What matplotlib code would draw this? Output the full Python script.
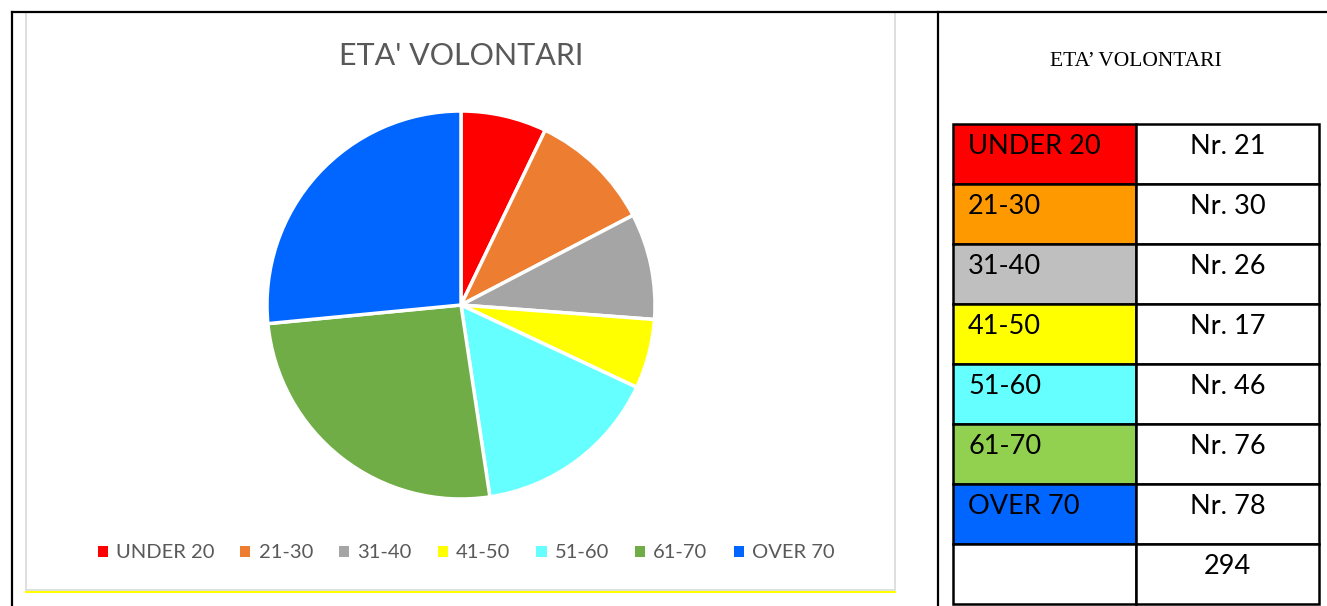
import matplotlib.pyplot as plt
from matplotlib.patches import Rectangle, Patch

# data
labels = ['UNDER 20', '21-30', '31-40', '41-50', '51-60', '61-70', 'OVER 70']
values = [21, 30, 26, 17, 46, 76, 78]
pie_colors = ['#FF0000', '#ED7D31', '#A5A5A5', '#FFFF00', '#66FFFF', '#70AD47', '#0066FF']
table_colors = ['#FF0000', '#FF9900', '#BFBFBF', '#FFFF00', '#66FFFF', '#92D050', '#0066FF']
title = "ETA' VOLONTARI"
total = sum(values)

W, H = 1327, 606
fig = plt.figure(figsize=(W / 100, H / 100), dpi=100)

# background axes in pixel coords (y down)
bg = fig.add_axes([0, 0, 1, 1])
bg.set_xlim(0, W)
bg.set_ylim(H, 0)
bg.axis('off')

# outer document table lines
bg.plot([12, W], [12, 12], color='black', lw=1.6)
bg.plot([12, 12], [12, H], color='black', lw=1.6)
bg.plot([938, 938], [12, H], color='black', lw=1.6)

# chart frame
bg.add_patch(Rectangle((26, 12), 869, 578, fill=False, ec='#D9D9D9', lw=1.2))
bg.plot([26, 895], [592, 592], color='#FFFF00', lw=1.5)

bg.text(461, 56, title, ha='center', va='center', fontsize=22, color='#595959', family='Lato')

# pie
cx, cy, r = 461, 305, 194
pax = fig.add_axes([(cx - r) / W, (H - cy - r) / H, 2 * r / W, 2 * r / H])
pax.pie(values, colors=pie_colors, startangle=90, counterclock=False,
        wedgeprops=dict(edgecolor='white', linewidth=2.5))
pax.set_xlim(-1.0, 1.0)
pax.set_ylim(-1.0, 1.0)

handles = [Patch(facecolor=c, edgecolor='none') for c in pie_colors]
leg = bg.legend(handles, labels, ncol=7, loc='center', bbox_to_anchor=(466 / W, 1 - 553 / H),
                bbox_transform=fig.transFigure, frameon=False, handlelength=0.5, handleheight=0.5,
                handletextpad=0.4, columnspacing=1.3, prop={'family': 'Lato', 'size': 14.5})
for t in leg.get_texts():
    t.set_color('#595959')

# right side table
bg.text(1136, 62, 'ETA\u2019 VOLONTARI', ha='center', va='center', fontsize=15.5,
        family='Liberation Serif', color='black')
x0, x1, x2 = 953, 1136, 1319
y0, rh = 124, 60
for i, lab in enumerate(labels):
    y = y0 + i * rh
    bg.add_patch(Rectangle((x0, y), x1 - x0, rh, fc=table_colors[i], ec='black', lw=1.8))
    bg.add_patch(Rectangle((x1, y), x2 - x1, rh, fc='white', ec='black', lw=1.8))
    bg.text(968, y + 23, lab, ha='left', va='center', fontsize=19.5, family='Lato', color='black')
    bg.text((x1 + x2) / 2, y + 23, 'Nr. %d' % values[i], ha='center', va='center',
            fontsize=19.5, family='Lato', color='black')
y = y0 + len(labels) * rh
bg.add_patch(Rectangle((x0, y), x1 - x0, rh, fc='white', ec='black', lw=1.8))
bg.add_patch(Rectangle((x1, y), x2 - x1, rh, fc='white', ec='black', lw=1.8))
bg.text((x1 + x2) / 2, y + 23, str(total), ha='center', va='center', fontsize=19.5,
        family='Lato', color='black')

fig.savefig('out.png', dpi=100)
